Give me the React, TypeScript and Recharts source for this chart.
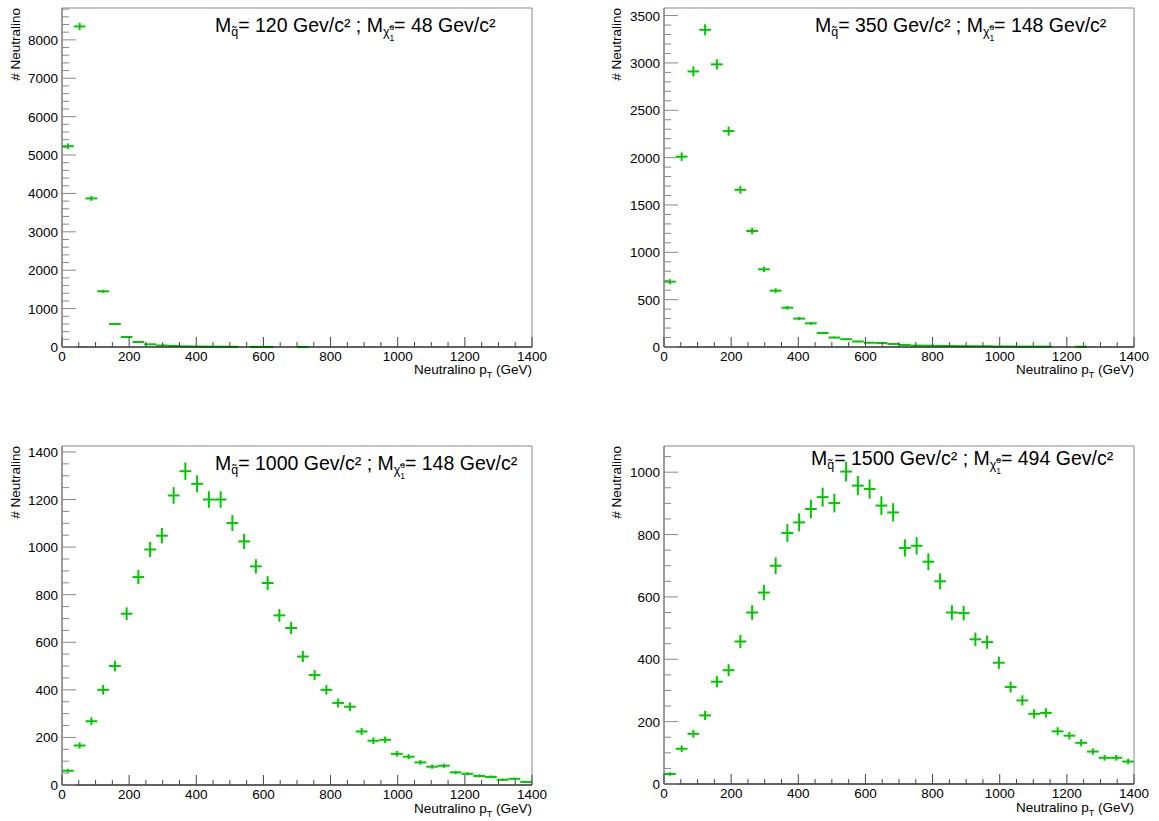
import React from "react";
import { ComposedChart, Scatter, ErrorBar, XAxis, YAxis, ReferenceArea } from "recharts";

// bin centres of the 40 pT bins (35 GeV wide)
const binCenters = [
  17.5, 52.5, 87.5, 122.5, 157.5, 192.5, 227.5, 262.5, 297.5, 332.5,
  367.5, 402.5, 437.5, 472.5, 507.5, 542.5, 577.5, 612.5, 647.5, 682.5,
  717.5, 752.5, 787.5, 822.5, 857.5, 892.5, 927.5, 962.5, 997.5, 1032.5,
  1067.5, 1102.5, 1137.5, 1172.5, 1207.5, 1242.5, 1277.5, 1312.5, 1347.5, 1382.5,
];
const HALF_BIN = 17.5;

// entries per bin
const counts120 = [
  5230, 8350, 3870, 1450, 600, 260, 130, 70, 40, 28,
  16, 12, 10, 8, 6, 0, 4, 3, 0, 0,
  2, 0, 0, 0, 0, 0, 0, 0, 0, 0,
  0, 0, 0, 0, 0, 0, 0, 0, 0, 0,
];
const counts350 = [
  690, 2010, 2910, 3350, 2985, 2280, 1660, 1225, 820, 595,
  415, 300, 250, 148, 100, 82, 58, 45, 42, 32,
  22, 15, 14, 12, 10, 9, 8, 8, 5, 5,
  4, 4, 4, 0, 0, 3, 0, 0, 0, 0,
];
const counts1000 = [
  60, 166, 268, 400, 500, 720, 874, 990, 1048, 1217,
  1319, 1266, 1200, 1200, 1101, 1024, 919, 849, 713, 660,
  540, 462, 400, 345, 329, 225, 186, 190, 131, 119,
  95, 77, 81, 53, 47, 38, 34, 22, 26, 13,
];
const counts1500 = [
  32, 113, 161, 220, 328, 365, 457, 550, 614, 700,
  805, 839, 882, 920, 901, 1002, 957, 946, 893, 871,
  757, 764, 713, 650, 550, 548, 464, 455, 389, 311,
  268, 225, 228, 169, 155, 132, 104, 84, 84, 72,
];

const squarkMasses = ["120", "350", "1000", "1500"];
const neutralinoMasses = ["48", "148", "148", "494"];

const GREEN = "#00c800";
const FONT = "'Liberation Sans', Arial, Helvetica, sans-serif";

const range = (step: number, max: number) => {
  const out: number[] = [];
  for (let v = 0; v <= max + 1e-6; v += step) out.push(v);
  return out;
};

const toRows = (counts: number[]) =>
  binCenters
    .map((x, i) => ({ x, y: counts[i], ex: HALF_BIN, ey: Math.sqrt(counts[i]) }))
    .filter((r) => r.y > 0);

const XTick = (props: any) => {
  const { x, y, payload } = props;
  const v = payload.value;
  const major = v % 200 === 0;
  return (
    <g>
      <line x1={x} x2={x} y1={y} y2={y - (major ? 10 : 5)} stroke="#444" strokeWidth={1} />
      {major && (
        <text x={x} y={y + 14} textAnchor="middle" fontSize={13.5} fontFamily={FONT} fill="#000">
          {v}
        </text>
      )}
    </g>
  );
};

const makeYTick = (majorStep: number) => (props: any) => {
  const { x, y, payload } = props;
  const v = payload.value;
  const major = Math.abs(v / majorStep - Math.round(v / majorStep)) < 1e-6;
  return (
    <g>
      <line x1={x} x2={x + (major ? 14 : 7)} y1={y} y2={y} stroke="#888" strokeWidth={1} />
      {major && (
        <text x={x - 4} y={y + 5} textAnchor="end" fontSize={13.5} fontFamily={FONT} fill="#000">
          {v}
        </text>
      )}
    </g>
  );
};

interface PanelProps {
  counts: number[];
  yMax: number;
  yMajor: number;
  yMinor: number;
  left: number;
  top: number;
  yAxisWidth: number;
  margin: { top: number; right: number; left: number; bottom: number };
}

const Panel = ({ counts, yMax, yMajor, yMinor, left, top, yAxisWidth, margin }: PanelProps) => {
  const rows = toRows(counts);
  return (
    <div style={{ position: "absolute", left, top }}>
      <ComposedChart width={580} height={400} data={rows} margin={margin}>
        <ReferenceArea x1={0} x2={1400} y1={0} y2={yMax} fill="none" stroke="#888" strokeWidth={1} ifOverflow="visible" />
        <XAxis
          type="number"
          dataKey="x"
          domain={[0, 1400]}
          ticks={range(50, 1400)}
          interval={0}
          allowDataOverflow
          height={30}
          tickSize={0}
          tickMargin={0}
          tickLine={false}
          axisLine={{ stroke: "#000", strokeWidth: 1 }}
          tick={<XTick />}
        />
        <YAxis
          type="number"
          dataKey="y"
          domain={[0, yMax]}
          ticks={range(yMinor, yMax)}
          interval={0}
          allowDataOverflow
          width={yAxisWidth}
          tickSize={0}
          tickMargin={0}
          tickLine={false}
          axisLine={{ stroke: "#777", strokeWidth: 1 }}
          tick={makeYTick(yMajor)}
        />
        <Scatter data={rows} shape={() => <g />} isAnimationActive={false}>
          <ErrorBar dataKey="ey" direction="y" width={0} stroke={GREEN} strokeWidth={2} />
          <ErrorBar dataKey="ex" direction="x" width={0} stroke={GREEN} strokeWidth={2} />
        </Scatter>
      </ComposedChart>
    </div>
  );
};

const Title = ({ x, y, mq, mchi }: { x: number; y: number; mq: string; mchi: string }) => (
  <text x={x} y={y} fontFamily={FONT} fontSize={19.5} fill="#000">
    M
    <tspan fontSize={12.5} dy={4}>q̃</tspan>
    <tspan fontSize={19.5} dy={-4}>{`= ${mq} Gev/c² ; M`}</tspan>
    <tspan fontSize={12.5} dy={4}>χ̃</tspan>
    <tspan fontSize={8.5} dy={-6}>o</tspan>
    <tspan fontSize={8.5} dx={-4.8} dy={11}>1</tspan>
    <tspan fontSize={19.5} dy={-9}>{`= ${mchi} Gev/c²`}</tspan>
  </text>
);

const YTitle = ({ x, y }: { x: number; y: number }) => (
  <text transform={`translate(${x},${y}) rotate(-90)`} textAnchor="end" fontFamily={FONT} fontSize={13.5} fill="#000">
    # Neutralino
  </text>
);

const XTitle = ({ x, y }: { x: number; y: number }) => (
  <text x={x} y={y} textAnchor="end" fontFamily={FONT} fontSize={13.5} fill="#000">
    Neutralino p<tspan fontSize={9} dy={4}>T</tspan>
    <tspan fontSize={13.5} dy={-4}> (GeV)</tspan>
  </text>
);

const App = () => {
  return (
    <div style={{ position: "absolute", left: 0, top: 0, width: 1159, height: 821, background: "#fff" }}>
      <Panel counts={counts120} yMax={8830} yMajor={1000} yMinor={200} left={0} top={0} yAxisWidth={62}
        margin={{ top: 8, right: 48, left: 0, bottom: 23 }} />
      <Panel counts={counts350} yMax={3580} yMajor={500} yMinor={100} left={600} top={0} yAxisWidth={64}
        margin={{ top: 8, right: 46, left: 0, bottom: 23 }} />
      <Panel counts={counts1000} yMax={1425} yMajor={200} yMinor={50} left={0} top={436} yAxisWidth={62}
        margin={{ top: 10, right: 48, left: 0, bottom: 21 }} />
      <Panel counts={counts1500} yMax={1084} yMajor={200} yMinor={50} left={600} top={436} yAxisWidth={64}
        margin={{ top: 10, right: 46, left: 0, bottom: 22 }} />

      <svg width={1159} height={821} style={{ position: "absolute", left: 0, top: 0, pointerEvents: "none" }}>
        <Title x={215} y={32} mq={squarkMasses[0]} mchi={neutralinoMasses[0]} />
        <Title x={815} y={32} mq={squarkMasses[1]} mchi={neutralinoMasses[1]} />
        <Title x={215} y={470} mq={squarkMasses[2]} mchi={neutralinoMasses[2]} />
        <Title x={811} y={465} mq={squarkMasses[3]} mchi={neutralinoMasses[3]} />
        <YTitle x={20} y={8} />
        <YTitle x={621} y={8} />
        <YTitle x={20} y={446} />
        <YTitle x={621} y={446} />
        <XTitle x={532} y={374} />
        <XTitle x={1134} y={374} />
        <XTitle x={532} y={813} />
        <XTitle x={1134} y={812} />
      </svg>
    </div>
  );
};

export default App;
